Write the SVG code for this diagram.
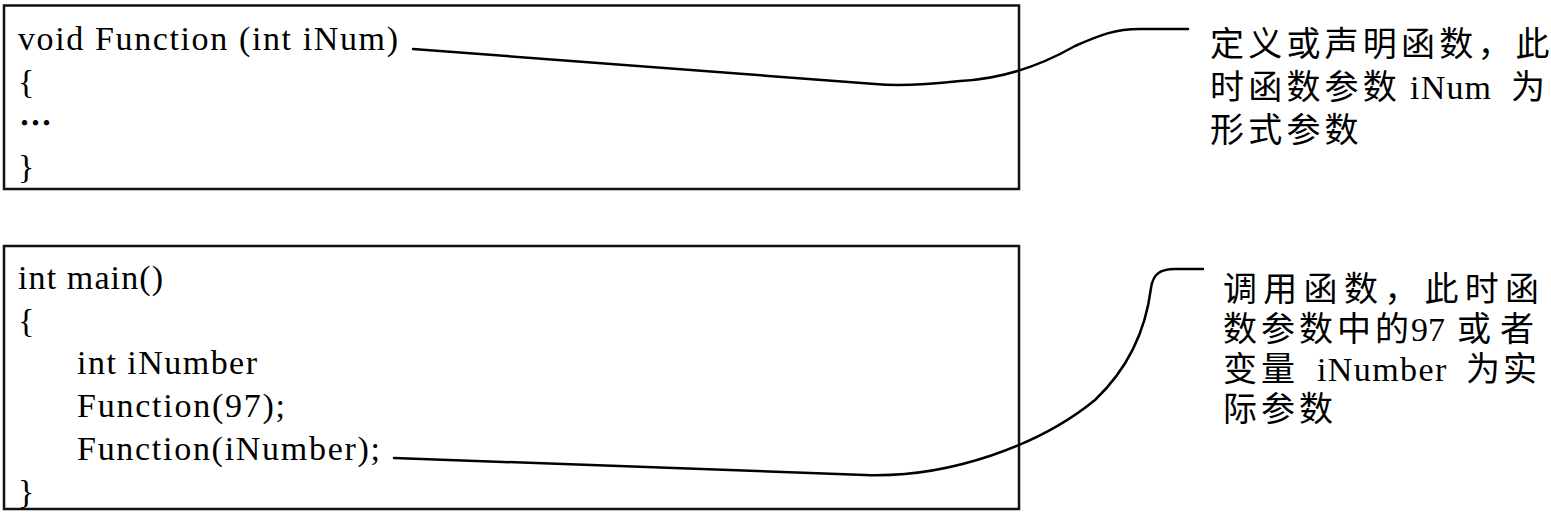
<svg xmlns="http://www.w3.org/2000/svg" width="1551" height="519" viewBox="0 0 1551 519">
<style>
.box{fill:none;stroke:#111;stroke-width:2.5}
.code{font-family:"Liberation Serif","Times New Roman",serif;font-size:34px;fill:#000}
.dots{font-family:"Noto Sans CJK SC",sans-serif;font-size:33px;font-weight:700;fill:#000}
.note{font-family:"Liberation Serif","Noto Sans CJK SC",serif;font-size:34px;fill:#000}
.conn{fill:none;stroke:#000;stroke-width:2.5;stroke-linecap:round;stroke-linejoin:round}
</style>
<rect width="1551" height="519" fill="#fff"/>
<g id="node-definition">
<rect class="box" x="4" y="5.5" width="1015" height="183.5"/>
<text class="code" x="18" y="50" textLength="380" lengthAdjust="spacing">void Function (int iNum)</text>
<text class="code" x="18" y="93">{</text>
<text class="dots" x="19" y="135">…</text>
<text class="code" x="18" y="178">}</text>
</g>
<g id="node-main">
<rect class="box" x="4" y="246" width="1015" height="263"/>
<text class="code" x="18" y="289" textLength="145" lengthAdjust="spacing">int main()</text>
<text class="code" x="18" y="332">{</text>
<text class="code" x="77" y="374" textLength="180" lengthAdjust="spacing">int iNumber</text>
<text class="code" x="77" y="417" textLength="208" lengthAdjust="spacing">Function(97);</text>
<text class="code" x="77" y="460" textLength="303" lengthAdjust="spacing">Function(iNumber);</text>
<text class="code" x="18" y="503">}</text>
</g>
<g id="note-formal">
<text class="note" x="1210" y="56" letter-spacing="4.2">定义或声明函数，此</text>
<text class="note" y="99"><tspan x="1210" letter-spacing="4.2">时函数参数</tspan><tspan x="1410" letter-spacing="1.2">iNum</tspan><tspan x="1511">为</tspan></text>
<text class="note" x="1210" y="142" letter-spacing="4.2">形式参数</text>
</g>
<g id="note-actual">
<text class="note" x="1223" y="301" letter-spacing="6.3">调用函数，此时函</text>
<text class="note" y="341"><tspan x="1223" letter-spacing="4">数参数中的</tspan><tspan x="1411">97</tspan><tspan x="1457 1500">或者</tspan></text>
<text class="note" y="381"><tspan x="1223" letter-spacing="4">变量</tspan><tspan x="1317" letter-spacing="1.4">iNumber</tspan><tspan x="1466 1503">为实</tspan></text>
<text class="note" x="1223" y="421" letter-spacing="4">际参数</text>
</g>
<g id="connectors">
<path class="conn" d="M413,49 L875,84 Q905,87 960,81 C1000,79 1040,66 1075,46 C1100,35 1115,29 1140,29 L1188,29"/>
<path class="conn" d="M394,458 L865,475 C950,478 1040,445 1095,400 C1135,362 1147,320 1151,288 C1153,274 1160,269 1175,269 L1203,269"/>
</g>
</svg>
